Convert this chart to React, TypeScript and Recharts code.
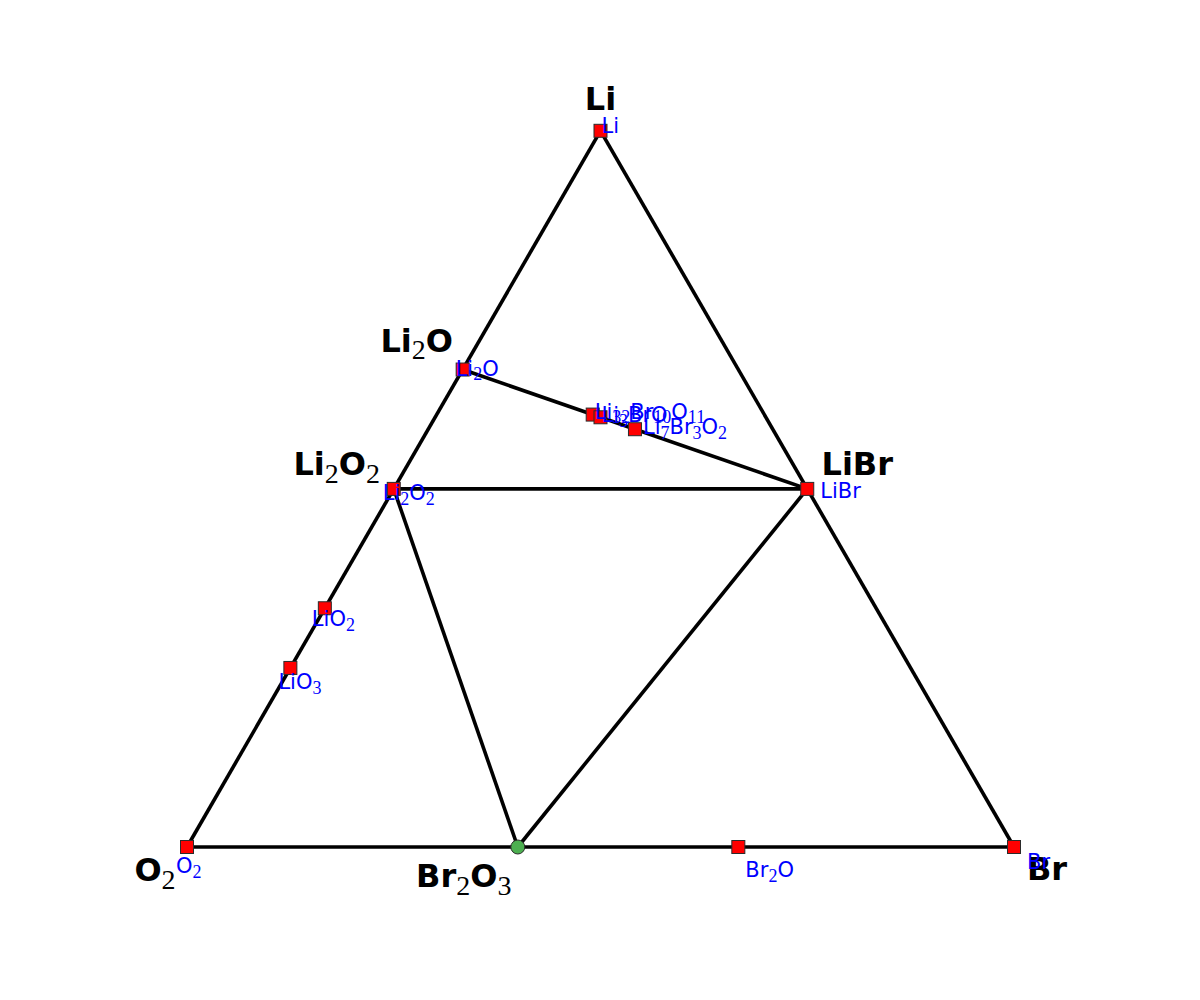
import React from 'react';
import { ScatterChart, Scatter, XAxis, YAxis } from 'recharts';

// phases of the Li-Br-O system, given as atom counts
const phases = ['Li', 'Li2O', 'Li2O2', 'LiO2', 'LiO3', 'O2', 'Br2O3', 'Br2O', 'Br', 'LiBr', 'Li7Br3O2', 'Li32Br10O11', 'Li3BrO'];
const liCount = [1, 2, 2, 1, 1, 0, 0, 0, 0, 1, 7, 32, 3];
const brCount = [0, 0, 0, 0, 0, 0, 2, 2, 1, 1, 3, 10, 1];
const oCount = [0, 1, 2, 2, 3, 2, 3, 1, 0, 0, 2, 11, 1];
const markerKind = ['square', 'square', 'square', 'square', 'square', 'square', 'circle', 'square', 'square', 'square', 'square', 'square', 'square'];

// phases named in big black letters
const vertexNames = ['Li', 'Li2O', 'Li2O2', 'LiBr', 'O2', 'Br2O3', 'Br'];

// tie lines of the diagram
const tieLines = [
  ['Li', 'O2'],
  ['O2', 'Br'],
  ['Br', 'Li'],
  ['Li2O', 'LiBr'],
  ['Li2O2', 'LiBr'],
  ['Li2O2', 'Br2O3'],
  ['Br2O3', 'LiBr'],
];

// label placement (pixels from the point)
const smallLabelOffset: Record<string, [number, number]> = {
  Li: [1, -5],
  Li2O: [-7, -1],
  Li2O2: [-11, 4],
  LiO2: [-13, 11],
  LiO3: [-12, 14],
  O2: [-11, 19],
  Br2O: [7, 23],
  Br: [13, 15],
  LiBr: [13, 2],
  Li7Br3O2: [8, -2],
  Li32Br10O11: [2, -3],
  Li3BrO: [1, -2],
};
const bigLabelOffset: Record<string, [number, number]> = {
  Li: [0, -32],
  Li2O: [-46, -29],
  Li2O2: [-57, -25],
  LiBr: [50, -25],
  O2: [-32, 23],
  Br2O3: [-54, 29],
  Br: [33, 22],
};

const H = Math.sqrt(3) / 2;

const points = phases.map((name, i) => {
  const t = liCount[i] + brCount[i] + oCount[i];
  const li = liCount[i] / t;
  const br = brCount[i] / t;
  return { name, x: br + li / 2, y: li * H, kind: markerKind[i] };
});
const byName = (n: string) => points.find(p => p.name === n)!;

const smallLabels = points.filter(p => smallLabelOffset[p.name]);
const bigLabels = vertexNames.map(byName);

function Formula({ text, size, subSize, bold }: { text: string; size: number; subSize: number; bold?: boolean }) {
  const parts: React.ReactNode[] = [];
  const re = /([A-Z][a-z]?)(\d*)/g;
  const shift = size * 0.28;
  let m: RegExpExecArray | null;
  let k = 0;
  let lowered = false;
  while ((m = re.exec(text))) {
    parts.push(
      <tspan key={k++} dy={lowered ? -shift : 0} fontSize={size} fontWeight={bold ? 'bold' : 'normal'} fontFamily="'DejaVu Sans', sans-serif">
        {m[1]}
      </tspan>
    );
    lowered = false;
    if (m[2]) {
      parts.push(
        <tspan key={k++} dy={shift} fontSize={subSize} fontFamily="'Liberation Serif', 'DejaVu Serif', serif" fontWeight="normal">
          {m[2]}
        </tspan>
      );
      lowered = true;
    }
  }
  return <>{parts}</>;
}

const SquareMarker = (props: any) => {
  const { cx, cy, payload } = props;
  if (payload.kind === 'circle') {
    return <circle cx={cx} cy={cy} r={7} fill="#4caf50" stroke="#2b2b2b" strokeWidth={1} />;
  }
  return <rect x={cx - 6.5} y={cy - 6.5} width={13} height={13} fill="#ff0000" stroke="#2b2b2b" strokeWidth={1} />;
};

const SmallLabel = (props: any) => {
  const { cx, cy, payload } = props;
  const [dx, dy] = smallLabelOffset[payload.name];
  return (
    <text x={cx + dx} y={cy + dy} fill="#0000ff" dominantBaseline="central">
      <Formula text={payload.name} size={21} subSize={18} />
    </text>
  );
};

const BigLabel = (props: any) => {
  const { cx, cy, payload } = props;
  const [dx, dy] = bigLabelOffset[payload.name];
  return (
    <text x={cx + dx} y={cy + dy} fill="#000000" textAnchor="middle" dominantBaseline="central">
      <Formula text={payload.name} size={32} subSize={28} bold />
    </text>
  );
};

const NoDot = () => <g />;

export default function App() {
  return (
    <div style={{ width: 1192, height: 992, background: '#fff' }}>
      <ScatterChart width={1192} height={992} margin={{ top: 122.8, right: 186, bottom: 153, left: 179 }}>
        <XAxis type="number" dataKey="x" domain={[0, 1]} hide />
        <YAxis type="number" dataKey="y" domain={[0, H]} hide />
        {tieLines.map(([a, b], i) => (
          <Scatter
            key={'line' + i}
            data={[byName(a), byName(b)]}
            line={{ stroke: '#000000', strokeWidth: 3.6 }}
            shape={NoDot}
            isAnimationActive={false}
          />
        ))}
        <Scatter data={points} shape={SquareMarker} isAnimationActive={false} />
        <Scatter data={bigLabels} shape={BigLabel} isAnimationActive={false} />
        <Scatter data={smallLabels} shape={SmallLabel} isAnimationActive={false} />
      </ScatterChart>
    </div>
  );
}
